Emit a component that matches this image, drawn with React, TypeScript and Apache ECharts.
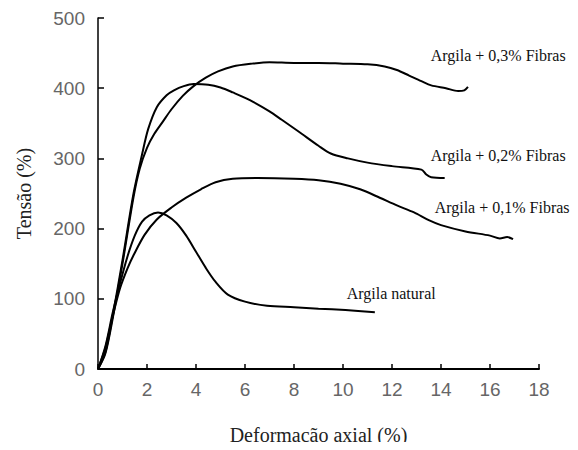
import React, { useEffect, useRef } from "react";
import * as echarts from "echarts";

const xTicks = [0, 2, 4, 6, 8, 10, 12, 14, 16, 18];
const yTicks = [0, 100, 200, 300, 400, 500];

const fibras03: [number, number][] = [
  [0, 0], [0.3, 22], [0.6, 72], [1.0, 150], [1.45, 245], [1.7, 285], [2.0, 315], [2.3, 335],
  [2.64, 352], [3.0, 370], [3.46, 389], [3.9, 403], [4.4, 415], [4.9, 424], [5.5, 431], [6.3, 435], [7, 437],
  [8, 436], [9, 436], [10, 435], [11, 434], [11.7, 431], [12.2, 426], [12.7, 418], [13.2, 410],
  [13.6, 404], [14.2, 400], [14.7, 396], [14.95, 397], [15.1, 402],
];
const fibras02: [number, number][] = [
  [0, 0], [0.3, 24], [0.6, 76], [1.0, 155], [1.45, 250], [1.8, 306], [2.05, 342], [2.4, 373],
  [2.8, 390], [3.1, 397], [3.5, 403], [3.9, 406], [4.5, 405], [5.0, 401], [5.5, 394],
  [6.2, 383], [7.0, 367], [7.5, 355], [8.2, 338], [9.0, 318], [9.5, 307], [10.2, 300], [11, 294],
  [12, 289], [13.2, 284], [13.4, 277], [13.6, 273], [14.15, 272],
];
const fibras01: [number, number][] = [
  [0, 0], [0.3, 30], [0.6, 75], [0.9, 115], [1.2, 143], [1.45, 162], [1.9, 191], [2.4, 213],
  [3.0, 230], [3.6, 244], [4.2, 256], [4.8, 266], [5.5, 271], [6.5, 272], [8, 271], [9, 269],
  [9.9, 264], [10.7, 256], [11.5, 244], [12.2, 233], [12.9, 223], [13.5, 212], [14, 205],
  [15, 196], [16, 190], [16.4, 186], [16.7, 188], [16.94, 185],
];
const natural: [number, number][] = [
  [0, 0], [0.3, 32], [0.6, 80], [0.9, 122], [1.2, 160], [1.5, 190], [1.8, 210], [2.1, 219],
  [2.45, 223], [2.8, 219], [3.2, 208], [3.6, 190], [4.0, 167], [4.4, 144], [4.8, 124], [5.3, 106],
  [6.0, 96], [6.9, 90], [8, 88], [9, 86], [10.1, 84], [11.3, 81],
];

const seriesNames = ["Argila + 0,3% Fibras", "Argila + 0,2% Fibras", "Argila + 0,1% Fibras", "Argila natural"];
const seriesData = [fibras03, fibras02, fibras01, natural];
const labelAnchors: [number, number][] = [[13.58, 447], [13.58, 304], [13.74, 230], [10.15, 108]];

export default function App() {
  const ref = useRef<HTMLDivElement>(null);
  useEffect(() => {
    if (!ref.current) return;
    const chart = echarts.init(ref.current, null, { renderer: "svg" });
    const serif = "Liberation Serif";
    const tickFont = "Liberation Sans";
    chart.setOption({
      animation: false,
      backgroundColor: "#fff",
      grid: { left: 98, right: 39, top: 18, bottom: 79, containLabel: false },
      xAxis: {
        type: "value", min: 0, max: 18, interval: 2,
        name: "Deformação axial (%)", nameLocation: "middle", nameGap: 56,
        nameTextStyle: { fontFamily: serif, fontSize: 20, color: "#222" },
        axisLine: { show: true, lineStyle: { color: "#000", width: 2 } },
        axisTick: { show: true, inside: true, length: 5, lineStyle: { color: "#000", width: 1.5 } },
        axisLabel: { fontFamily: tickFont, fontSize: 19, color: "#666", margin: 11,
          formatter: (v: number) => (xTicks.includes(v) ? String(v) : "") },
        splitLine: { show: false },
      },
      yAxis: {
        type: "value", min: 0, max: 500, interval: 100,
        name: "Tensão (%)", nameLocation: "middle", nameGap: 64, nameRotate: 90,
        nameTextStyle: { fontFamily: serif, fontSize: 20, color: "#222" },
        axisLine: { show: true, lineStyle: { color: "#000", width: 1.5 } },
        axisTick: { show: true, inside: true, length: 6, lineStyle: { color: "#000", width: 1.5 } },
        axisLabel: { fontFamily: tickFont, fontSize: 19, color: "#666", margin: 13,
          formatter: (v: number) => (yTicks.includes(v) ? String(v) : "") },
        splitLine: { show: false },
      },
      series: seriesData.map((d, i) => ({
        type: "line",
        name: seriesNames[i],
        data: d,
        smooth: 0.3,
        showSymbol: false,
        lineStyle: { color: "#000", width: 2 },
        markPoint: {
          symbol: "circle", symbolSize: 0, silent: true,
          data: [{ coord: labelAnchors[i], value: seriesNames[i] }],
          label: { show: true, position: "right", distance: 0, formatter: seriesNames[i],
            fontFamily: serif, fontSize: 16, color: "#111" },
        },
      })),
    });
    return () => chart.dispose();
  }, []);
  return <div ref={ref} style={{ width: 578, height: 450, margin: -8 }} />;
}
